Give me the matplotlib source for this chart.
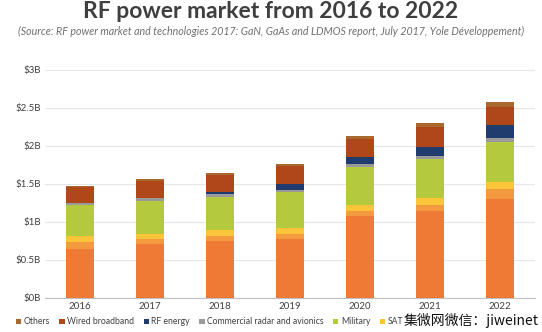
import numpy as np
import matplotlib
matplotlib.use("Agg")
import matplotlib.pyplot as plt
from matplotlib.patches import Patch

plt.rcParams['font.family'] = ['Lato', 'Noto Sans CJK SC', 'DejaVu Sans']

years = ['2016', '2017', '2018', '2019', '2020', '2021', '2022']

# values in $B, bottom to top of each stack
wireless = [0.645, 0.71, 0.754, 0.776, 1.083, 1.15, 1.30]
other_base = [0.095, 0.066, 0.066, 0.064, 0.067, 0.08, 0.13]
sat = [0.076, 0.064, 0.075, 0.08, 0.08, 0.08, 0.096]
military = [0.404, 0.436, 0.435, 0.47, 0.49, 0.52, 0.524]
radar = [0.03, 0.044, 0.04, 0.03, 0.04, 0.04, 0.05]
rf_energy = [0.0, 0.0, 0.025, 0.075, 0.095, 0.12, 0.18]
wired = [0.215, 0.22, 0.225, 0.242, 0.235, 0.26, 0.23]
others = [0.015, 0.02, 0.03, 0.023, 0.04, 0.05, 0.075]

series = [
    ('Wireless infrastructure', wireless, '#EF7A35'),
    ('Base station', other_base, '#F39A3E'),
    ('SAT', sat, '#FBC53A'),
    ('Military', military, '#B4C93E'),
    ('Commercial radar and avionics', radar, '#9A9A9A'),
    ('RF energy', rf_energy, '#203C6E'),
    ('Wired broadband', wired, '#B04718'),
    ('Others', others, '#A8682E'),
]
legend_order = ['Others', 'Wired broadband', 'RF energy',
                'Commercial radar and avionics', 'Military', 'SAT']

fig = plt.figure(figsize=(5.42, 3.32), dpi=100)
ax = fig.add_axes([45 / 542, 1 - 298 / 332, 490 / 542, 228 / 332])

x = np.arange(len(years))
bottom = np.zeros(len(years))
for name, vals, col in series:
    ax.bar(x, vals, 0.4, bottom=bottom, color=col, zorder=3)
    bottom += np.array(vals)

ax.set_xlim(-0.5, len(years) - 0.5)
ax.set_ylim(0, 3)
ax.set_yticks([0, 0.5, 1, 1.5, 2, 2.5, 3])
ax.set_yticklabels(['$0B', '$0.5B', '$1B', '$1.5B', '$2B', '$2.5B', '$3B'])
ax.set_xticks(x)
ax.set_xticklabels(years)
ax.tick_params(axis='both', length=0, labelsize=7, colors='#404040', pad=3)
ax.grid(axis='y', color='#E6E6E6', linewidth=0.8, zorder=0)
for s in ['top', 'right', 'left']:
    ax.spines[s].set_visible(False)
ax.spines['bottom'].set_color('#BFBFBF')

fig.text(0.5, 1 - 12 / 332, 'RF power market from 2016 to 2022', ha='center', va='center',
         fontsize=16.5, fontweight='bold', color='#3F3F3F')
fig.text(0.5, 1 - 31 / 332,
         '(Source: RF power market and technologies 2017: GaN, GaAs and LDMOS report, July 2017, Yole D\u00e9veloppement)',
         ha='center', va='center', fontsize=7.7, style='italic', color='#707070')

colors = {n: c for n, v, c in series}
handles = [Patch(facecolor=colors[n], edgecolor='none') for n in legend_order]
leg = fig.legend(handles, legend_order, loc='center left', bbox_to_anchor=(8 / 542, 1 - 322 / 332),
                 ncol=6, frameon=False, fontsize=6.2, handlelength=0.6, handleheight=0.6,
                 handletextpad=0.3, columnspacing=1.1, labelcolor='#404040')

fig.text(539 / 542, 1 - 320 / 332, '集微网微信：jiweinet', ha='right', va='center',
         fontsize=10, color='#111111', family=['Noto Sans CJK SC', 'DejaVu Sans'])

fig.savefig('out.png', dpi=100, facecolor='white')
